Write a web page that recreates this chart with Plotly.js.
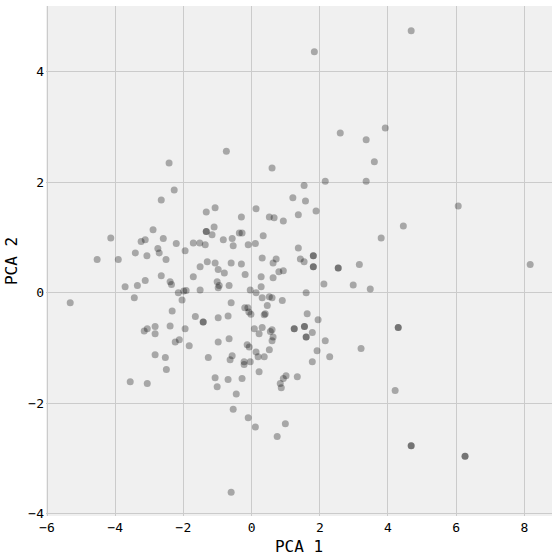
<!DOCTYPE html>
<html>
<head>
<meta charset="utf-8">
<script src="https://cdn.plot.ly/plotly-3.0.1.min.js"></script>
<style>html,body{margin:0;padding:0;background:#fff;}#chart{width:560px;height:560px;}</style>
</head>
<body>
<div id="chart"></div>
<script>
const pca1 = [
-2.42,-2.27,-2.65,-2.89,-4.13,-3.24,-3.12,-2.59,-2.21,-2.75,
-2.71,-1.95,-3.41,-3.07,-2.51,-4.53,-3.91,-2.65,-3.12,-3.35,
-3.71,-2.39,-2.35,-2.15,-1.99,-1.92,-0.74,0.60,1.54,2.16,
1.21,1.58,1.89,1.37,-1.33,-1.07,0.13,-0.30,0.52,0.66,
0.93,-1.33,-1.33,-1.10,-1.16,-0.36,-0.28,0.34,-1.71,-1.52,
-1.36,-0.83,-0.57,-0.54,-0.10,0.11,1.37,1.81,1.81,1.81,
1.81,1.43,1.54,0.31,0.72,0.63,-1.30,-1.07,-0.60,-0.30,
-1.51,-0.98,-0.80,0.80,0.93,-1.71,-0.19,0.28,0.63,-1.01,
-0.95,-0.98,-0.66,-1.51,-0.04,0.28,0.13,2.12,1.60,3.60,
3.36,6.06,4.45,3.80,2.54,2.54,3.16,2.98,3.48,-3.44,
-5.32,-2.04,-2.33,-3.15,-3.06,-2.83,-2.83,-2.39,-1.95,-2.24,
-2.12,-1.83,-2.83,-2.53,-2.50,-3.56,-3.06,0.31,0.52,0.60,
0.90,-0.60,-0.20,-0.11,-0.08,-0.02,0.46,0.37,0.40,-1.65,
-1.42,-1.42,-0.98,-0.69,1.63,1.95,0.08,0.31,0.22,0.55,
0.60,0.63,0.60,1.25,1.25,1.55,1.55,1.60,1.60,1.78,
-0.66,-0.98,-0.13,-0.07,0.13,0.52,0.19,0.37,2.16,1.92,
1.78,2.29,-1.27,-0.63,-0.57,-0.22,-0.22,-0.04,0.22,-1.07,
-0.69,-0.28,-1.01,-0.45,1.01,0.93,0.84,0.87,1.34,-0.54,
-0.10,0.11,0.99,4.30,4.30,3.21,4.21,0.75,-0.60,4.68,
4.68,6.26,6.26,4.68,1.84,2.60,3.36,3.92,8.17
];
const pca2 = [
2.35,1.86,1.68,1.14,0.99,0.93,0.96,0.98,0.89,0.80,
0.72,0.76,0.72,0.67,0.60,0.60,0.60,0.31,0.22,0.13,
0.11,0.20,0.15,0.00,0.03,0.04,2.56,2.26,1.94,2.02,
1.72,1.66,1.48,1.41,1.46,1.54,1.52,1.37,1.37,1.36,
1.30,1.11,1.11,1.19,1.05,1.08,1.08,1.03,0.90,0.90,
0.87,0.96,0.98,0.85,0.87,0.89,0.81,0.67,0.67,0.47,
0.47,0.61,0.56,0.63,0.61,0.54,0.56,0.54,0.54,0.52,
0.47,0.42,0.36,0.38,0.40,0.29,0.33,0.29,0.27,0.20,
0.13,0.09,0.13,0.05,0.05,0.11,0.00,0.16,0.00,2.37,
2.02,1.57,1.21,0.99,0.45,0.45,0.51,0.14,0.07,-0.09,
-0.18,-0.13,-0.33,-0.69,-0.65,-0.61,-0.74,-0.60,-0.65,-0.89,
-0.85,-0.96,-1.12,-1.17,-1.39,-1.61,-1.64,-0.09,-0.07,-0.09,
-0.14,-0.18,-0.27,-0.27,-0.35,-0.39,-0.23,-0.40,-0.38,-0.43,
-0.53,-0.53,-0.45,-0.42,-0.38,-0.49,-0.65,-0.63,-0.74,-0.70,
-0.67,-0.80,-0.87,-0.65,-0.65,-0.61,-0.61,-0.80,-0.80,-0.72,
-0.83,-0.89,-0.94,-0.98,-1.07,-1.03,-1.16,-1.16,-0.87,-1.05,
-1.25,-1.16,-1.17,-1.21,-1.14,-1.25,-1.30,-1.25,-1.43,-1.54,
-1.57,-1.55,-1.70,-1.83,-1.50,-1.55,-1.64,-1.72,-1.52,-2.11,
-2.26,-2.43,-2.37,-0.63,-0.63,-1.01,-1.77,-2.60,-3.61,-2.77,
-2.77,-2.96,-2.96,4.74,4.36,2.89,2.77,2.98,0.51
];
const xTicks = [-6,-4,-2,0,2,4,6,8];
const yTicks = [-4,-2,0,2,4];
const xLabel = 'PCA 1';
const yLabel = 'PCA 2';

const trace = {
  x: pca1, y: pca2, type: 'scatter', mode: 'markers',
  marker: {color: 'rgba(0,0,0,0.3)', size: 7, line: {width: 0}},
  hoverinfo: 'skip'
};
const fontFam = 'DejaVu Sans Mono, monospace';
const layout = {
  width: 560, height: 560,
  margin: {l: 46, r: 8, t: 6, b: 44},
  paper_bgcolor: '#ffffff',
  plot_bgcolor: '#f0f0f0',
  showlegend: false,
  font: {family: fontFam, color: '#000', size: 13},
  xaxis: {
    range: [-6.03, 8.81], tickvals: xTicks, ticktext: xTicks.map(v => v < 0 ? '\u2212' + Math.abs(v) : String(v)),
    showgrid: true, gridcolor: '#cbcbcb', gridwidth: 1, zeroline: false, showline: false,
    ticks: '', ticklabelstandoff: 2, tickfont: {family: fontFam, size: 13, color: '#000'},
    title: {text: xLabel, font: {family: fontFam, size: 16, color: '#000'}, standoff: 6}
  },
  yaxis: {
    range: [-4.04, 5.19], tickvals: yTicks, ticktext: yTicks.map(v => v < 0 ? '\u2212' + Math.abs(v) : String(v)),
    showgrid: true, gridcolor: '#cbcbcb', gridwidth: 1, zeroline: false, showline: false,
    ticks: '', ticklabelstandoff: 1, tickfont: {family: fontFam, size: 13, color: '#000'},
    title: {text: yLabel, font: {family: fontFam, size: 16, color: '#000'}, standoff: 6}
  }
};
Plotly.newPlot('chart', [trace], layout, {staticPlot: true, displayModeBar: false});
</script>
</body>
</html>
